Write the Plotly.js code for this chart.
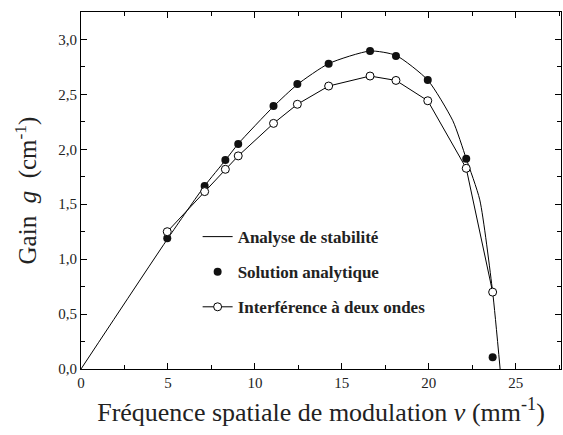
<!DOCTYPE html>
<html><head><meta charset="utf-8">
<script src="https://cdn.plot.ly/plotly-3.0.1.min.js"></script>
<style>html,body{margin:0;padding:0;background:#fff}#chart{width:563px;height:435px}</style>
</head><body><div id="chart"></div>
<script>
// Analyse de stabilité (continuous curve)
const curveX = [0, 5.0, 7.1, 8.3, 9.04, 11.07, 12.44, 14.24, 16.62, 18.11, 19.94, 21.38, 22.15, 22.93, 23.67, 24.1];
const curveY = [0, 1.19, 1.665, 1.90, 2.05, 2.39, 2.59, 2.78, 2.895, 2.855, 2.63, 2.26, 1.915, 1.54, 0.70, 0.0];
// Solution analytique (filled dots)
const solX = [4.96, 7.11, 8.30, 9.04, 11.07, 12.44, 14.24, 16.62, 18.11, 19.94, 22.15, 23.67];
const solY = [1.19, 1.667, 1.903, 2.048, 2.394, 2.594, 2.78, 2.894, 2.85, 2.63, 1.915, 0.106];
// Interférence à deux ondes (open circles)
const intX = [4.96, 7.11, 8.30, 9.04, 11.07, 12.44, 14.24, 16.62, 18.11, 19.94, 22.15, 23.67];
const intY = [1.25, 1.615, 1.818, 1.94, 2.236, 2.41, 2.576, 2.667, 2.627, 2.442, 1.827, 0.70];
const names = ["Analyse de stabilité", "Solution analytique", "Interférence à deux ondes"];

const FF = 'Liberation Serif';
const traces = [
  {x: curveX, y: curveY, mode: 'lines', name: '<b>' + names[0] + '</b>', legendgroup: 'a',
   line: {color: '#000', width: 1, shape: 'spline', smoothing: 0.6}},
  {x: solX, y: solY, mode: 'markers', name: '<b>' + names[1] + '</b>', legendgroup: 'b',
   marker: {color: '#111', size: 8, symbol: 'circle'}},
  {x: intX, y: intY, mode: 'lines+markers', name: '<b>' + names[2] + '</b>', legendgroup: 'c',
   line: {color: '#000', width: 1},
   marker: {color: '#fff', size: 8, symbol: 'circle', line: {color: '#000', width: 1}}}
];
const layout = {
  width: 563, height: 435,
  margin: {l: 81, r: 2, t: 12, b: 66},
  paper_bgcolor: '#fff', plot_bgcolor: '#fff',
  separators: ', ',
  font: {family: FF, size: 15},
  showlegend: true,
  legend: {x: 0.243, y: 0.42, xanchor: 'left', yanchor: 'top', bgcolor: 'rgba(0,0,0,0)',
    font: {family: FF, size: 17, color: '#222'},
    traceorder: 'grouped', tracegroupgap: 10, itemwidth: 30},
  xaxis: {range: [0, 27.6], dtick: 5, tick0: 0, tickformat: 'd',
    ticks: 'inside', ticklen: 6, tickcolor: '#000', showgrid: false, zeroline: false,
    showline: true, linecolor: '#000', linewidth: 1, mirror: 'ticks',
    minor: {dtick: 2.5, ticks: 'inside', ticklen: 4, tickcolor: '#000', showgrid: false},
    tickfont: {family: FF, size: 15, color: '#222'},
    title: {text: 'Fréquence spatiale de modulation <i>ν</i> (mm<sup>-1</sup>)', standoff: 12,
      font: {family: FF, size: 26, color: '#222'}}},
  yaxis: {range: [0, 3.25], dtick: 0.5, tick0: 0, tickformat: '.1f',
    ticks: 'inside', ticklen: 6, tickcolor: '#000', showgrid: false, zeroline: false,
    showline: true, linecolor: '#000', linewidth: 1, mirror: 'ticks',
    minor: {dtick: 0.25, ticks: 'inside', ticklen: 4, tickcolor: '#000', showgrid: false},
    tickfont: {family: FF, size: 15, color: '#222'},
    title: {text: 'Gain  <i>g</i>  (cm<sup>-1</sup>)', standoff: 14,
      font: {family: FF, size: 25, color: '#222'}}}
};
Plotly.newPlot('chart', traces, layout, {displayModeBar: false, staticPlot: true});
</script></body></html>
